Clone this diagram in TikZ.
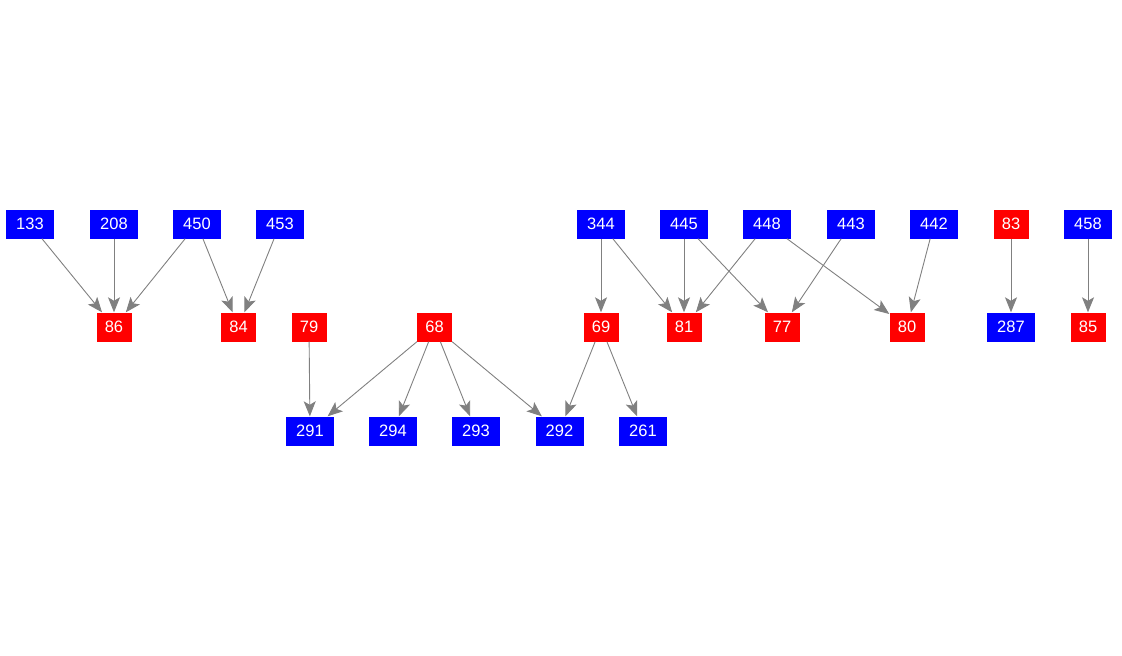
\documentclass[tikz,border=0pt]{standalone}
\usepackage{fontspec}
\setmainfont{Liberation Sans}
\usetikzlibrary{arrows.meta}
\tikzset{
  bnode/.style={fill=blue, text=white, minimum width=48pt, minimum height=29pt, inner sep=0pt, font=\fontsize{16.5}{18}\selectfont},
  rnode/.style={fill=red, text=white, minimum width=35pt, minimum height=29pt, inner sep=0pt, font=\fontsize{16.5}{18}\selectfont},
  edge/.style={draw=gray, line width=0.9pt, -{Stealth[length=15pt, width=12pt, inset=3.5pt]}}
}
\begin{document}
\begin{tikzpicture}[x=1pt, y=-1pt]
\useasboundingbox (0,0) rectangle (1122,656);
% top row
\node[bnode] (n133) at (30,224) {133};
\node[bnode] (n208) at (114,224) {208};
\node[bnode] (n450) at (197,224) {450};
\node[bnode] (n453) at (280,224) {453};
\node[bnode] (n344) at (601,224) {344};
\node[bnode] (n445) at (684,224) {445};
\node[bnode] (n448) at (767,224) {448};
\node[bnode] (n443) at (851,224) {443};
\node[bnode] (n442) at (934,224) {442};
\node[rnode] (n83) at (1011,224) {83};
\node[bnode] (n458) at (1088,224) {458};
% middle row
\node[rnode] (n86) at (114,327) {86};
\node[rnode] (n84) at (238.5,327) {84};
\node[rnode] (n79) at (309,327) {79};
\node[rnode] (n68) at (434.5,327) {68};
\node[rnode] (n69) at (601,327) {69};
\node[rnode] (n81) at (684,327) {81};
\node[rnode] (n77) at (782,327) {77};
\node[rnode] (n80) at (907,327) {80};
\node[bnode] (n287) at (1011,327) {287};
\node[rnode] (n85) at (1088,327) {85};
% bottom row
\node[bnode] (n291) at (310,431) {291};
\node[bnode] (n294) at (393,431) {294};
\node[bnode] (n293) at (476,431) {293};
\node[bnode] (n292) at (559.5,431) {292};
\node[bnode] (n261) at (643,431) {261};
% edges
\draw[edge] (n133) -- (n86);
\draw[edge] (n208) -- (n86);
\draw[edge] (n450) -- (n86);
\draw[edge] (n450) -- (n84);
\draw[edge] (n453) -- (n84);
\draw[edge] (n79) -- (n291);
\draw[edge] (n68) -- (n291);
\draw[edge] (n68) -- (n294);
\draw[edge] (n68) -- (n293);
\draw[edge] (n68) -- (n292);
\draw[edge] (n69) -- (n292);
\draw[edge] (n69) -- (n261);
\draw[edge] (n344) -- (n69);
\draw[edge] (n344) -- (n81);
\draw[edge] (n445) -- (n81);
\draw[edge] (n445) -- (n77);
\draw[edge] (n448) -- (n81);
\draw[edge] (n448) -- (n80);
\draw[edge] (n443) -- (n77);
\draw[edge] (n442) -- (n80);
\draw[edge] (n83) -- (n287);
\draw[edge] (n458) -- (n85);
\end{tikzpicture}
\end{document}
